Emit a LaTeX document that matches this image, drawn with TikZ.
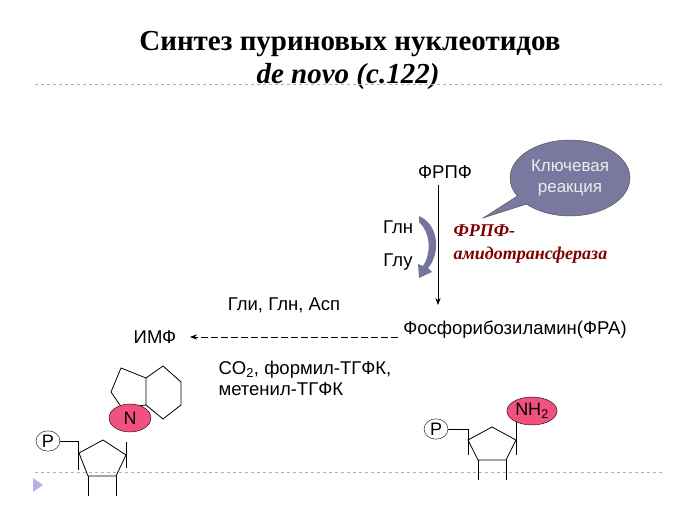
\documentclass[tikz,border=0pt]{standalone}
\usepackage{fontspec}
\setmainfont{Liberation Sans}
\newfontfamily\serifx{Liberation Serif}
\usetikzlibrary{arrows.meta,shapes.callouts,shapes.geometric}
\begin{document}
\begin{tikzpicture}[x=1pt,y=-1pt,
  lbl/.style={font=\fontsize{18.5}{22}\selectfont},
  ln/.style={line width=0.8pt},
  sep/.style={draw=gray!60,dashed,line width=0.6pt},
  blob/.style={ellipse,draw,fill=magenta!55!red!70!white,inner sep=1pt,font=\fontsize{18}{20}\selectfont}]
\useasboundingbox (0,0) rectangle (680,510);
\node[font=\serifx\bfseries\fontsize{29}{32}\selectfont] (t1) at (350,44) {Синтез пуриновых нуклеотидов};
\node[font=\serifx\bfseries\itshape\fontsize{29}{32}\selectfont] (t2) at (348,77) {de novo (c.122)};
\draw[sep] (35,84) -- (665,84);
\draw[sep] (35,472) -- (665,472);
\fill[gray!50!blue!40] (33,478) -- (43,485) -- (33,492) -- cycle;
\node[lbl] (frpf) at (445,172) {ФРПФ};
\node[lbl] (fra) at (515,330) {Фосфорибозиламин(ФРА)};
\coordinate (a1) at (438,185);
\coordinate (a2) at (438,305);
\draw[ln,-{Stealth[length=7pt]}] (a1) -- (a2);
\node[lbl] (gga) at (284,305) {Гли, Глн, Асп};
\node[lbl] (imf) at (155,337) {ИМФ};
\coordinate (d1) at (398,337);
\coordinate (d2) at (190,337);
\draw[ln,dashed,dash pattern=on 7pt off 3pt,-{Stealth[length=7pt]}] (d1) -- (d2);
\node[lbl,align=left,anchor=west,font=\fontsize{18.5}{21}\selectfont] (co2) at (215,378) {CO\textsubscript{2}, формил-ТГФК,\\метенил-ТГФК};
\node[lbl] (gln) at (398,227) {Глн};
\node[lbl] (glu) at (398,262) {Глу};
\fill[gray!40!blue!45!black!60] (419,216) .. controls (440,225) and (440,255) .. (428,268) -- (432,272) -- (419,278) -- (418,264) -- (423,266) .. controls (432,252) and (430,232) .. (419,222) -- cycle;
\node[font=\serifx\bfseries\itshape\fontsize{18}{23}\selectfont,text=red!50!black,align=left,anchor=west] (enz) at (450,244) {ФРПФ-\\амидотрансфераза};
\node[ellipse callout,draw=black!70,fill=blue!25!gray!80!black!75,minimum width=120pt,minimum height=76pt,callout absolute pointer={(483,218)},text=white!85!gray,align=center,font=\fontsize{17}{21}\selectfont] (cb) at (570,178) {Ключевая\\реакция};
% IMP molecule
\draw[ln] (121,368)--(146,378)--(146,405)--(122,408)--(111,392)--cycle;
\draw[ln] (146,378)--(163,366)--(181,382)--(181,405)--(163,419)--(146,405);
\node[blob,minimum width=42pt,minimum height=28pt] (n) at (130,418) {N};
\node[ellipse,draw,inner sep=1pt,minimum width=24pt,minimum height=19pt,font=\fontsize{18}{20}\selectfont] (p1) at (48,441) {P};
\draw[ln] (p1) -- (78,441) -- (78,470);
\draw[ln] (79,453)--(103,440)--(126,455)--(116,476)--(88,476)--cycle;
\draw[ln] (126,442)--(126,468);
\draw[ln] (88,476)--(88,496) (116,476)--(116,496);
% FRA molecule
\node[ellipse,draw,inner sep=1pt,minimum width=24pt,minimum height=19pt,font=\fontsize{18}{20}\selectfont] (p2) at (436,429) {P};
\draw[ln] (p2) -- (468,429) -- (468,455);
\draw[ln] (468,440)--(492,427)--(516,440)--(506,460)--(478,460)--cycle;
\draw[ln] (516,422)--(516,455);
\draw[ln] (478,460)--(478,480) (506,460)--(506,480);
\node[blob,minimum width=42pt,minimum height=28pt] (nh2) at (532,411) {NH\textsubscript{2}};
\end{tikzpicture}
\end{document}
